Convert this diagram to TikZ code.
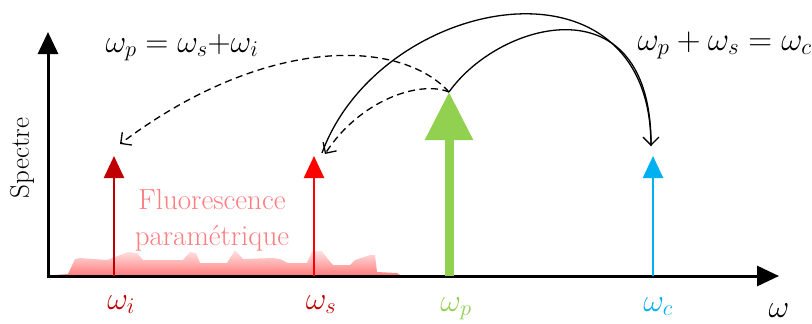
\RequirePackage{fix-cm}
\documentclass[tikz,border=0pt]{standalone}
\usepackage{amsmath}
\usetikzlibrary{arrows.meta,positioning}
\definecolor{idlerred}{HTML}{C00000}
\definecolor{signalred}{HTML}{FF0000}
\definecolor{pumpgreen}{HTML}{92D050}
\definecolor{convblue}{HTML}{00B0F0}
\definecolor{fluopink}{HTML}{FF7C80}
\tikzset{
  axis/.style={line width=3pt,
    {Triangle[width=20pt,length=22pt]}-{Triangle[width=20pt,length=22pt]}},
  ray/.style={line width=2.4pt,-{Triangle[width=20pt,length=22pt]}},
  mixline/.style={line width=1.3pt},
  mixdash/.style={mixline,dash pattern=on 7pt off 4.5pt},
  barb/.style={-{Straight Barb[length=8pt,width=16pt]}},
  freqlabel/.style={font=\fontsize{32}{34}\selectfont},
}
\begin{document}
\begin{tikzpicture}[x=1pt,y=-1pt]
  \useasboundingbox (0,0) rectangle (812,324);
  % fluorescence background
  \shade[top color=red!10,bottom color=red!52]
    (55,276) -- (55,275) -- (68,274) -- (75,259) -- (80,258) -- (107,260)
    -- (115,257) -- (128,252) -- (137,253) -- (143,260) -- (183,260)
    -- (190,252) -- (196,253) -- (200,263) -- (227,263) -- (235,250)
    -- (243,259) -- (273,258) -- (280,259) -- (288,263) -- (307,263)
    -- (312,251) -- (322,251) -- (327,258) -- (333,265) -- (350,265)
    -- (355,260) -- (370,255) -- (375,255) -- (377,272) -- (397,273)
    -- (402,276) -- cycle;

  % axes
  \coordinate (O) at (48,276);
  \coordinate (yT) at (48,32);
  \coordinate (xT) at (779,276);
  \draw[axis] (yT) -- (O) -- (xT);
  \node[rotate=90,font=\fontsize{27}{29}\selectfont] (spec) at (22,158) {Spectre};
  \node[freqlabel,anchor=base] (wL) at (779,317) {$\omega$};

  % spectral lines
  \foreach \name/\x/\col in {wi/114/idlerred,ws/314/signalred,wc/653/convblue}{
    \coordinate (\name B) at (\x,276);
    \coordinate (\name T) at (\x,156);
    \draw[ray,\col] (\name B) -- (\name T);
  }
  \coordinate (wpB) at (449,276);
  \coordinate (wpT) at (449,92);
  \draw[line width=9pt,pumpgreen,-{Triangle[width=46pt,length=48pt]}]
    (wpB) -- (wpT);

  \node[align=center,text=fluopink,font=\fontsize{29}{36}\selectfont]
    (fluo) at (212,220) {Fluorescence\\param\'etrique};

  % frequency labels
  \node[freqlabel,anchor=base,text=idlerred] (wiL) at (121,309) {$\omega_i$};
  \node[freqlabel,anchor=base,text=idlerred] (wsL) at (321,309) {$\omega_s$};
  \node[freqlabel,anchor=base,text=pumpgreen] (wpL) at (456,311) {$\omega_p$};
  \node[freqlabel,anchor=base,text=convblue] (wcL) at (658,311) {$\omega_c$};

  % energy conservation
  \node[freqlabel,anchor=base west] (dfg) at (102,52)
    {$\omega_p = \omega_s{+}\omega_i$};
  \node[freqlabel,anchor=base west,font=\fontsize{33}{35}\selectfont] (sfg)
    at (634,50) {$\omega_p + \omega_s = \omega_c$};
  \draw[mixdash,barb] (wpT) .. controls (400,38) and (265,35)
    .. ([shift={(6,-12)}]wiT);
  \draw[mixdash,barb] (wpT) .. controls (420,80) and (360,100)
    .. ([shift={(11,-2)}]wsT);
  \draw[mixline,barb] ([shift={(8,-3)}]wsT) .. controls (380,-5) and (650,-55)
    .. ([shift={(-2,-10)}]wcT);
  \draw[mixline] (wpT) .. controls (500,20) and (652,-20)
    .. ([shift={(-2,-10)}]wcT);
\end{tikzpicture}
\end{document}
